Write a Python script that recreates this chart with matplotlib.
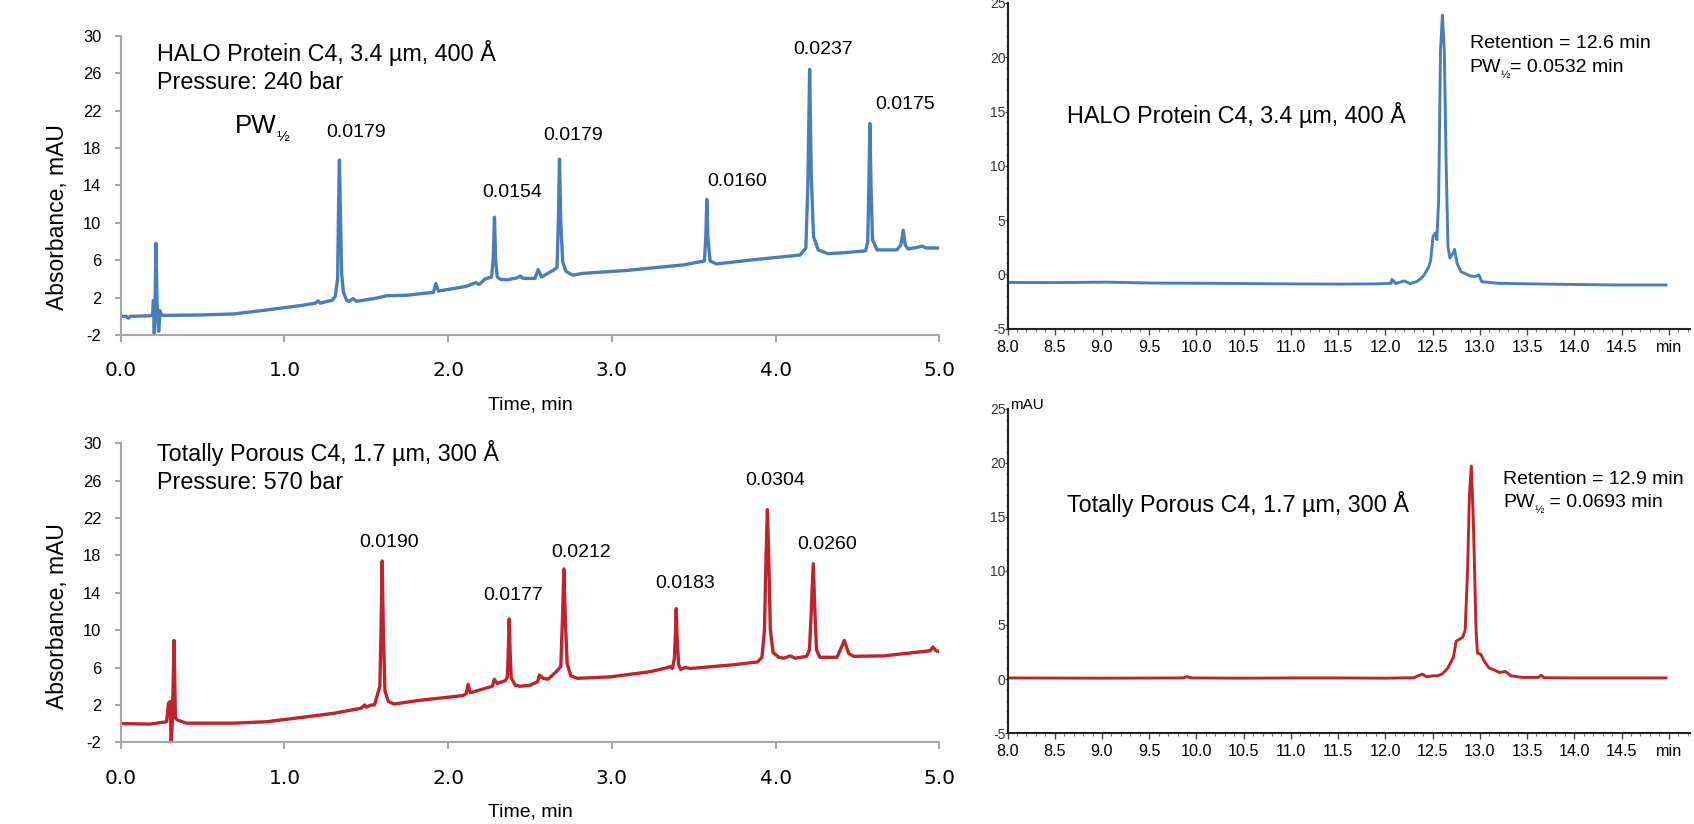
import numpy as np
import matplotlib.pyplot as plt
from matplotlib.ticker import MultipleLocator

# ---- data ----
# fast gradient, HALO Protein C4 (blue)
halo_time = [0.00, 0.03, 0.047, 0.06, 0.18, 0.195, 0.200, 0.205, 0.210, 0.215, 0.222, 0.232, 0.240, 0.25,
             0.30, 0.49, 0.69, 0.89, 1.10, 1.19, 1.205, 1.22, 1.26, 1.29, 1.31, 1.325, 1.331, 1.336, 1.342,
             1.350, 1.36, 1.38, 1.395, 1.42, 1.44, 1.55, 1.625, 1.75, 1.85, 1.91, 1.925, 1.94, 2.01, 2.11,
             2.17, 2.19, 2.226, 2.265, 2.275, 2.283, 2.29, 2.30, 2.32, 2.36, 2.42, 2.44, 2.46, 2.53, 2.55,
             2.57, 2.60, 2.64, 2.665, 2.673, 2.680, 2.688, 2.70, 2.72, 2.76, 2.83, 3.09, 3.44, 3.53, 3.565,
             3.574, 3.580, 3.586, 3.60, 3.64, 3.84, 4.15, 4.185, 4.197, 4.208, 4.218, 4.232, 4.26, 4.32,
             4.42, 4.55, 4.563, 4.570, 4.576, 4.583, 4.592, 4.62, 4.74, 4.765, 4.78, 4.792, 4.81, 4.86,
             4.894, 4.92, 5.00]
halo_abs = [0.0, 0.0, -0.2, 0.0, 0.05, 0.2, 1.7, -2.3, 1.0, 7.8, 1.5, -1.6, 0.6, 0.1,
            0.1, 0.14, 0.25, 0.67, 1.15, 1.4, 1.65, 1.4, 1.6, 1.7, 2.1, 4.0, 12.0, 16.7, 11.0,
            4.5, 2.6, 1.7, 1.6, 1.9, 1.6, 1.9, 2.2, 2.25, 2.45, 2.55, 3.5, 2.7, 2.9, 3.2,
            3.6, 3.4, 4.0, 4.2, 6.0, 10.6, 6.0, 4.2, 3.95, 3.9, 4.1, 4.3, 4.05, 4.05, 5.0,
            4.2, 4.5, 4.9, 5.2, 10.0, 16.8, 10.0, 5.8, 4.8, 4.4, 4.6, 4.9, 5.5, 5.8, 5.9,
            8.5, 12.5, 8.5, 5.9, 5.6, 6.0, 6.55, 7.3, 14.0, 26.4, 15.0, 8.5, 7.1, 6.7,
            6.8, 7.0, 8.0, 14.0, 20.6, 14.0, 8.2, 7.1, 7.1, 7.6, 9.2, 7.6, 7.2, 7.35,
            7.5, 7.3, 7.3]

# fast gradient, totally porous C4 (red)
porous_time = [0.00, 0.18, 0.28, 0.292, 0.302, 0.308, 0.316, 0.326, 0.334, 0.345, 0.36, 0.40, 0.69, 0.89,
               1.10, 1.30, 1.47, 1.49, 1.50, 1.53, 1.55, 1.565, 1.583, 1.590, 1.597, 1.604, 1.614, 1.635,
               1.67, 1.71, 1.83, 2.09, 2.11, 2.122, 2.135, 2.27, 2.282, 2.30, 2.35, 2.362, 2.368, 2.373,
               2.378, 2.385, 2.41, 2.44, 2.50, 2.547, 2.558, 2.58, 2.61, 2.644, 2.66, 2.688, 2.698, 2.707,
               2.716, 2.727, 2.75, 2.79, 2.99, 3.23, 3.32, 3.356, 3.37, 3.382, 3.388, 3.393, 3.399, 3.408,
               3.42, 3.45, 3.48, 3.745, 3.89, 3.917, 3.932, 3.942, 3.950, 3.958, 3.968, 3.985, 4.02, 4.05,
               4.09, 4.12, 4.19, 4.207, 4.218, 4.230, 4.240, 4.25, 4.27, 4.375, 4.395, 4.42, 4.447, 4.476,
               4.66, 4.945, 4.96, 4.98, 5.00]
porous_abs = [0.0, -0.05, 0.2, 2.2, 2.35, -2.3, 0.5, 8.9, 0.6, 0.4, 0.3, 0.05, 0.05, 0.2,
              0.65, 1.1, 1.65, 2.0, 1.75, 2.0, 2.0, 2.9, 4.0, 10.0, 17.4, 10.0, 3.5, 2.35,
              2.1, 2.2, 2.5, 3.0, 3.2, 4.2, 3.3, 4.0, 4.75, 4.3, 4.6, 5.0, 8.0, 11.2,
              8.0, 4.9, 4.1, 4.0, 4.1, 4.5, 5.2, 4.85, 4.75, 5.3, 5.55, 6.1, 11.0, 16.55,
              11.0, 6.4, 5.1, 4.85, 5.0, 5.55, 5.9, 6.1, 5.9, 7.0, 9.5, 12.3, 9.0, 6.3,
              5.8, 6.0, 5.9, 6.3, 6.6, 7.1, 10.0, 18.0, 22.9, 18.0, 10.0, 7.6, 7.1, 7.0,
              7.25, 7.0, 7.2, 7.9, 12.0, 17.1, 12.0, 7.9, 7.1, 7.1, 7.9, 8.9, 7.5, 7.2,
              7.25, 7.8, 8.2, 7.8, 7.7]

halo_pw = ["0.0179", "0.0154", "0.0179", "0.0160", "0.0237", "0.0175"]
porous_pw = ["0.0190", "0.0177", "0.0212", "0.0183", "0.0304", "0.0260"]

# single protein runs (right)
halo_rt_time = [8.00, 8.50, 9.05, 9.50, 10.00, 10.50, 11.00, 11.50, 11.90, 12.00, 12.06, 12.07, 12.11,
                12.20, 12.26, 12.33, 12.38, 12.41, 12.46, 12.48, 12.505, 12.53, 12.545, 12.564, 12.584,
                12.604, 12.624, 12.644, 12.663, 12.683, 12.713, 12.733, 12.76, 12.80, 12.90, 12.95,
                12.99, 13.02, 13.20, 13.69, 14.44, 14.97]
halo_rt_abs = [-0.75, -0.76, -0.72, -0.80, -0.82, -0.85, -0.88, -0.90, -0.88, -0.85, -0.83, -0.46, -0.85,
               -0.6, -0.85, -0.68, -0.37, -0.06, 0.7, 1.3, 3.5, 3.8, 3.2, 6.8, 20.7,
               23.9, 20.7, 9.9, 2.55, 1.5, 1.9, 2.3, 1.0, 0.25, -0.15, -0.2,
               -0.05, -0.68, -0.83, -0.9, -0.98, -0.98]
porous_rt_time = [8.00, 9.00, 9.86, 9.90, 9.95, 10.50, 11.00, 11.50, 12.00, 12.30, 12.39, 12.44, 12.50,
                  12.55, 12.60, 12.66, 12.72, 12.75, 12.79, 12.82, 12.845, 12.87, 12.89, 12.91, 12.93,
                  12.945, 12.96, 12.975, 13.01, 13.05, 13.10, 13.15, 13.21, 13.27, 13.33, 13.45,
                  13.62, 13.65, 13.68, 14.00, 14.50, 14.97]
porous_rt_abs = [0.10, 0.08, 0.10, 0.22, 0.10, 0.08, 0.10, 0.10, 0.08, 0.12, 0.45, 0.2, 0.3,
                 0.3, 0.45, 1.0, 2.0, 3.5, 3.7, 3.9, 4.5, 10.0, 17.0, 19.7, 15.0,
                 10.0, 4.5, 2.4, 2.3, 1.6, 1.0, 0.85, 0.6, 0.7, 0.3, 0.15,
                 0.15, 0.35, 0.12, 0.10, 0.10, 0.10]

left_yticks = [-2, 2, 6, 10, 14, 18, 22, 26, 30]
left_xticks = [0.0, 1.0, 2.0, 3.0, 4.0, 5.0]
right_yticks = [-5, 0, 5, 10, 15, 20, 25]
right_xticks = [8.0, 8.5, 9.0, 9.5, 10.0, 10.5, 11.0, 11.5, 12.0, 12.5, 13.0, 13.5, 14.0, 14.5, 15.0]
right_xlabels = ["8.0", "8.5", "9.0", "9.5", "10.0", "10.5", "11.0", "11.5", "12.0", "12.5",
                 "13.0", "13.5", "14.0", "14.5", "min"]

BLUE = "#4a7ebb"
RED = "#c1232b"
GRAY = "#a6a6a6"
ARIAL = ["Liberation Sans", "DejaVu Sans"]

W, H = 1694, 824
fig = plt.figure(figsize=(W / 100, H / 100), dpi=100)


def add_ax(x0, x1, ytop, ybot):
    return fig.add_axes([x0 / W, 1 - ybot / H, (x1 - x0) / W, (ybot - ytop) / H])


def style_left(ax):
    ax.set_xlim(0, 5)
    ax.set_ylim(-2, 30)
    for s in ["top", "right"]:
        ax.spines[s].set_visible(False)
    for s in ["left", "bottom"]:
        ax.spines[s].set_color(GRAY)
        ax.spines[s].set_linewidth(1.5)
    ax.tick_params(axis="y", color=GRAY, width=1.5, length=4.5, pad=9.5)
    ax.tick_params(axis="x", color=GRAY, width=1.5, length=5, pad=14)
    ax.set_yticks(left_yticks)
    ax.set_xticks(left_xticks)
    ax.set_xticklabels([f"{v:.1f}" for v in left_xticks], fontsize=14.5, family="DejaVu Sans")
    ax.set_yticklabels([str(v) for v in left_yticks], fontsize=11.9, family=ARIAL)
    ax.set_ylabel("Absorbance, mAU", fontsize=16.5, family=ARIAL)
    ax.set_xlabel("Time, min", fontsize=14, family=ARIAL)


def style_right(ax):
    ax.set_xlim(8, 15.225)
    ax.set_ylim(-5, 25)
    for s in ["top", "right"]:
        ax.spines[s].set_visible(False)
    for s in ["left", "bottom"]:
        ax.spines[s].set_color("#222222")
        ax.spines[s].set_linewidth(1.5)
    ax.xaxis.set_minor_locator(MultipleLocator(0.1))
    ax.yaxis.set_minor_locator(MultipleLocator(1))
    ax.tick_params(axis="x", which="major", length=4.5, width=1, color="#444444", pad=3.5)
    ax.tick_params(axis="x", which="minor", length=2.4, width=0.8, color="#777777")
    ax.tick_params(axis="y", which="major", length=2.5, width=1, color="#444444", pad=-1)
    ax.tick_params(axis="y", which="minor", length=1.8, width=0.8, color="#777777")
    ax.set_xticks(right_xticks)
    ax.set_xticklabels(right_xlabels, fontsize=11.6, family=ARIAL)
    ax.set_yticks(right_yticks)
    ax.set_yticklabels([str(v) for v in right_yticks], fontsize=10, family=ARIAL, color="#333333")


def pw_text(ax, x, y, rest, size, sub_size):
    t1 = ax.text(x, y, "PW", fontsize=size, family=ARIAL, va="baseline", ha="left")
    t2 = ax.annotate("½", xy=(1.0, 0.05), xycoords=t1, fontsize=sub_size, family=ARIAL,
                     va="center", ha="left")
    if rest:
        ax.annotate(rest, xy=(1.0, 0.0), xycoords=(t2, t1), fontsize=size, family=ARIAL,
                    va="bottom", ha="left")


# ---- top left: HALO fast gradient ----
ax1 = add_ax(120.7, 939.3, 35.7, 335)
ax1.plot(halo_time, halo_abs, color=BLUE, lw=2.4, solid_joinstyle="round")
style_left(ax1)
ax1.yaxis.set_label_coords(-0.063, 0.395)
ax1.xaxis.set_label_coords(0.5, -0.205)
ax1.text(0.22, 27.3, "HALO Protein C4, 3.4 µm, 400 Å", fontsize=16.8, family=ARIAL, va="baseline")
ax1.text(0.22, 24.27, "Pressure: 240 bar", fontsize=16.8, family=ARIAL, va="baseline")
pw_text(ax1, 0.698, 19.56, None, 18.6, 11)
halo_lab_x = [1.437, 2.389, 2.765, 3.767, 4.292, 4.793]
halo_lab_y = [19.2, 12.72, 18.85, 13.96, 28.0, 22.13]
for lab, x, y in zip(halo_pw, halo_lab_x, halo_lab_y):
    ax1.text(x, y, lab, fontsize=14, family=ARIAL, ha="center", va="baseline")

# ---- bottom left: totally porous fast gradient ----
ax2 = add_ax(120.7, 939.3, 443.3, 742.3)
ax2.plot(porous_time, porous_abs, color=RED, lw=2.4, solid_joinstyle="round")
style_left(ax2)
ax2.yaxis.set_label_coords(-0.063, 0.423)
ax2.xaxis.set_label_coords(0.5, -0.205)
ax2.text(0.22, 28.08, "Totally Porous C4, 1.7 µm, 300 Å", fontsize=16.8, family=ARIAL, va="baseline")
ax2.text(0.22, 25.1, "Pressure: 570 bar", fontsize=16.8, family=ARIAL, va="baseline")
porous_lab_x = [1.641, 2.398, 2.810, 3.447, 3.997, 4.316]
porous_lab_y = [18.87, 13.23, 17.86, 14.55, 25.5, 18.69]
for lab, x, y in zip(porous_pw, porous_lab_x, porous_lab_y):
    ax2.text(x, y, lab, fontsize=14, family=ARIAL, ha="center", va="baseline")

# ---- top right: HALO single protein ----
ax3 = add_ax(1007.5, 1690, 3.0, 328.6)
ax3.plot(halo_rt_time, halo_rt_abs, color=BLUE, lw=2.1, solid_joinstyle="round")
style_right(ax3)
ax3.text(12.892, 20.83, "Retention = 12.6 min", fontsize=14, family=ARIAL, va="baseline")
pw_text(ax3, 12.892, 18.67, "= 0.0532 min", 14, 8)
ax3.text(8.633, 13.92, "HALO Protein C4, 3.4 µm, 400 Å", fontsize=16.8, family=ARIAL, va="baseline")

# ---- bottom right: totally porous single protein ----
ax4 = add_ax(1007.5, 1690, 408.7, 733.1)
ax4.plot(porous_rt_time, porous_rt_abs, color=RED, lw=2.1, solid_joinstyle="round")
style_right(ax4)
ax4.text(13.247, 18.04, "Retention = 12.9 min", fontsize=14, family=ARIAL, va="baseline")
pw_text(ax4, 13.247, 15.88, " = 0.0693 min", 14, 8)
ax4.text(8.633, 15.48, "Totally Porous C4, 1.7 µm, 300 Å", fontsize=16.8, family=ARIAL, va="baseline")
ax4.text(8.025, 24.95, "mAU", fontsize=11, family=ARIAL, va="baseline")

fig.savefig("out.png", dpi=100)
